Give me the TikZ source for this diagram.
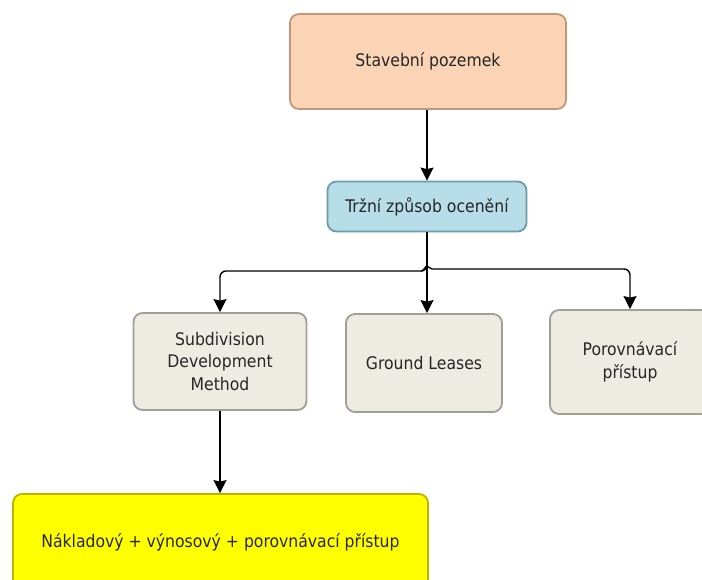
\documentclass[tikz,border=0pt]{standalone}
\usepackage{fontspec}
\setmainfont{DejaVu Sans Condensed}
\usetikzlibrary{arrows.meta}
\definecolor{peachfill}{HTML}{FBD4B6}
\definecolor{peachline}{HTML}{C2967A}
\definecolor{bluefill}{HTML}{B7DDE8}
\definecolor{blueline}{HTML}{6A9DA8}
\definecolor{grayfill}{HTML}{EEECE2}
\definecolor{grayline}{HTML}{A29E94}
\definecolor{yellowfill}{HTML}{FFFF00}
\definecolor{yellowline}{HTML}{B8B400}
\begin{document}
\begin{tikzpicture}[x=1pt,y=-1pt,
  box/.style={draw, line width=1.8pt, rounded corners=9pt, inner sep=0pt,
    align=center, text=black!85,
    font=\fontsize{17.4}{22.5}\selectfont},
  tip/.style={-{Stealth[length=13pt,width=13pt,inset=1.5pt]}},
  link/.style={line width=1.4pt, tip},
  branch/.style={line width=1.4pt, rounded corners=6pt}]
\useasboundingbox (0,0) rectangle (702,580);

% boxes
\node[box, fill=peachfill, draw=peachline, minimum width=276pt, minimum height=95pt]
  (sp) at (428,61.5) {Stavební pozemek};
\node[box, fill=bluefill, draw=blueline, minimum width=199pt, minimum height=50pt]
  (tr) at (427,206.5) {Tržní způsob ocenění};
\node[box, fill=grayfill, draw=grayline, minimum width=173pt, minimum height=97pt]
  (sdm) at (220,361.5) {Subdivision\\Development\\Method};
\node[box, fill=grayfill, draw=grayline, minimum width=156pt, minimum height=98pt]
  (gl) at (424,363) {Ground Leases};
\node[box, fill=grayfill, draw=grayline, minimum width=160pt, minimum height=104pt]
  (pp) at (630,362) {Porovnávací\\přístup};
\node[box, fill=yellowfill, draw=yellowline, minimum width=415pt, minimum height=96pt]
  (nvp) at (220.5,542) {Nákladový + výnosový + porovnávací přístup};

% connectors
\coordinate (j) at (427,271);
\coordinate (hl) at (422,271);
\coordinate (hr) at (432,269);
\draw[link] (sp.south -| j) -- (tr.north -| j);
\draw[link] (tr.south -| j) -- (gl.north -| j);
\draw[branch] (tr.south -| j) -- (j) -- (hl);
\draw[branch, tip] (hl) -| (sdm.north);
\draw[line width=1.4pt] (hl) .. controls (425,270) and (425,266) .. (427,266)
  .. controls (429,266) and (429,269) .. (hr);
\draw[branch, tip] (hr) -| (pp.north);
\draw[link] (sdm.south) -- (nvp.north -| sdm.south);
\end{tikzpicture}
\end{document}
